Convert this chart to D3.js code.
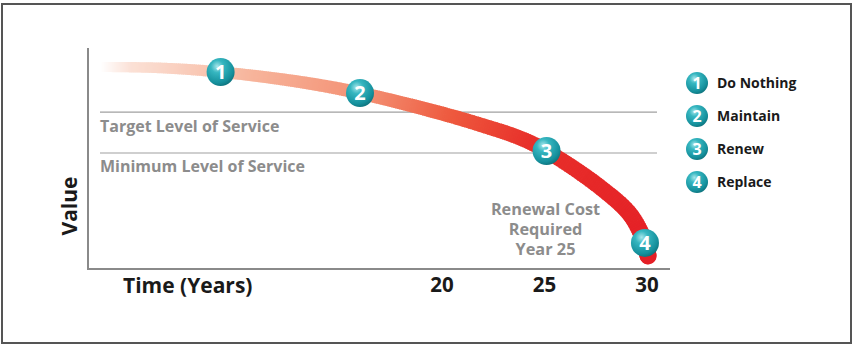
<!DOCTYPE html>
<html><head><meta charset="utf-8">
<script src="https://cdn.jsdelivr.net/npm/d3@7"></script>
<style>
html,body{margin:0;padding:0;background:#fff;}
svg{display:block;}
text{font-family:"Open Sans",sans-serif;font-weight:700;}
</style></head>
<body>
<svg id="c" width="856" height="347"></svg>
<script>
// ---- data ----
const curveYears  = [3.3, 6.2, 9.2, 13.1, 16.0, 19.9, 21.9, 23.8, 25.1, 27.7, 29.2, 29.9, 30.05];
const curveValues = [91.4, 91.0, 89.1, 84.6, 79.6, 70.6, 65.2, 59.3, 53.4, 37.1, 24.4, 11.8, 5.9];
const markerYears  = [9.2, 16.0, 25.1, 29.9];
const markerValues = [89.1, 79.6, 53.4, 11.8];
const markerLabels = ["1", "2", "3", "4"];
const legendLabels = ["Do Nothing", "Maintain", "Renew", "Replace"];
const levelNames  = ["Target Level of Service", "Minimum Level of Service"];
const levelValues = [71, 52.5];
const xTicks = [20, 25, 30];
const noteLines = ["Renewal Cost", "Required", "Year 25"];
const noteYear = 25.05;
const noteValues = [26.5, 17.5, 8.5];

// ---- scales ----
const svg = d3.select("#c");
const x = d3.scaleLinear().domain([20, 30]).range([442, 647]);
const y = d3.scaleLinear().domain([0, 100]).range([269, 48]);
const xAxisStart = x.invert(88), xAxisEnd = x.invert(670);

// frame
svg.append("rect").attr("x", 2).attr("y", 4).attr("width", 849).attr("height", 339)
  .attr("fill", "#fff").attr("stroke", "#555").attr("stroke-width", 2);

const defs = svg.append("defs");
const rg = defs.append("radialGradient").attr("id", "ball").attr("cx", "38%").attr("cy", "30%").attr("r", "75%");
rg.append("stop").attr("offset", "0%").attr("stop-color", "#a8e6ea");
rg.append("stop").attr("offset", "30%").attr("stop-color", "#36b6c0");
rg.append("stop").attr("offset", "78%").attr("stop-color", "#15909c");
rg.append("stop").attr("offset", "100%").attr("stop-color", "#0d6f79");

// axes
svg.append("line").attr("x1", x(xAxisStart)).attr("x2", x(xAxisStart))
  .attr("y1", y(100)).attr("y2", y(0)).attr("stroke", "#8a8a8a").attr("stroke-width", 2);
svg.append("line").attr("x1", x(xAxisStart) - 1).attr("x2", x(xAxisEnd))
  .attr("y1", y(0)).attr("y2", y(0)).attr("stroke", "#8a8a8a").attr("stroke-width", 2);

svg.selectAll(".tick").data(xTicks).enter().append("text")
  .attr("x", d => x(d)).attr("y", 292).attr("text-anchor", "middle")
  .attr("font-size", 20.5).attr("fill", "#1a1a1a").text(d => d);
svg.append("text").attr("x", 123).attr("y", 293).attr("font-size", 21)
  .attr("fill", "#1a1a1a").text("Time (Years)");
svg.append("text").attr("transform", "translate(77,206) rotate(-90)")
  .attr("text-anchor", "middle").attr("font-size", 21).attr("fill", "#1a1a1a").text("Value");

// service levels
levelValues.forEach((v, i) => {
  svg.append("line").attr("x1", 100).attr("x2", 657).attr("y1", y(v)).attr("y2", y(v))
    .attr("stroke", "#a0a0a0").attr("stroke-width", 1.2);
  svg.append("text").attr("x", 100).attr("y", y(v) + 19.5).attr("font-size", 16)
    .attr("fill", "#8c8c8c").text(levelNames[i]);
});

// curve: variable width + colour gradient
const pts = curveYears.map((d, i) => [x(d), y(curveValues[i])]);
const gen = d3.line().curve(d3.curveCatmullRom.alpha(0.5));
const tmp = svg.append("path").attr("d", gen(pts)).attr("fill", "none");
const node = tmp.node(), L = node.getTotalLength();
tmp.remove();
const colorStops = d3.scaleLinear()
  .domain([0, 0.05, 0.25, 0.45, 0.58, 0.72, 1])
  .range(["#ffffff", "#fbe1d6", "#f7b49b", "#f38d70", "#ee5a3f", "#e8302a", "#e41f26"])
  .interpolate(d3.interpolateRgb);
const widthS = d3.scaleLinear().domain([0, 1]).range([10, 17]);
const step = 2;
const g = svg.append("g");
for (let s = 0; s < L; s += step) {
  const a = node.getPointAtLength(s), b = node.getPointAtLength(Math.min(L, s + step + 0.8));
  const t = s / L;
  g.append("line").attr("x1", a.x).attr("y1", a.y).attr("x2", b.x).attr("y2", b.y)
    .attr("stroke", colorStops(t)).attr("stroke-width", widthS(t))
    .attr("stroke-linecap", t > 0.97 ? "round" : "butt");
}

// note
noteLines.forEach((t, i) => {
  svg.append("text").attr("x", x(noteYear)).attr("y", y(noteValues[i]) + 5)
    .attr("text-anchor", "middle").attr("font-size", 16.3).attr("fill", "#8c8c8c").text(t);
});

// markers
function ball(sel, cx, cy, r, label, fs) {
  const gg = sel.append("g").attr("transform", `translate(${cx},${cy})`);
  gg.append("circle").attr("r", r).attr("fill", "url(#ball)");
  gg.append("text").attr("y", fs * 0.36).attr("text-anchor", "middle")
    .attr("font-size", fs).attr("fill", "#fff").text(label);
}
markerYears.forEach((d, i) => ball(svg, x(d), y(markerValues[i]), 14, markerLabels[i], 20));

// legend
legendLabels.forEach((t, i) => {
  const ly = 83 + i * 33;
  ball(svg, 697, ly, 11, markerLabels[i], 16);
  svg.append("text").attr("x", 717).attr("y", ly + 5).attr("font-size", 14)
    .attr("fill", "#1a1a1a").text(t);
});
</script>
</body></html>
